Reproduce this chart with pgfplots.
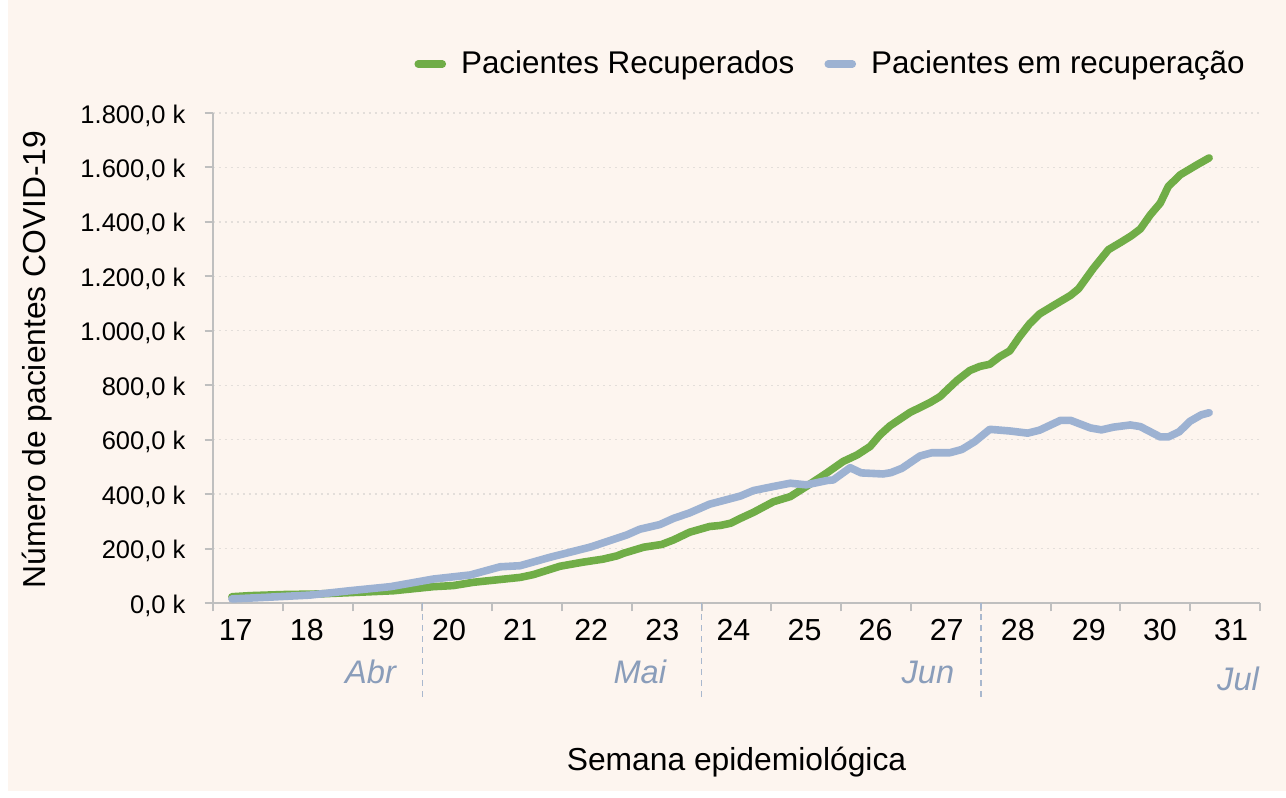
\documentclass[border=0pt]{standalone}
\usepackage{pgfplots}
\usepackage{pgfplotstable}
\pgfplotsset{compat=1.18}
\usepackage{fontspec}
\setmainfont{Liberation Sans}
\definecolor{bgc}{HTML}{FDF5EF}
\definecolor{greenc}{HTML}{70AD47}
\definecolor{bluec}{HTML}{9DB2D2}
\definecolor{axc}{HTML}{BFBFBF}
\definecolor{gridc}{HTML}{E3DEDA}
\definecolor{monthc}{HTML}{8A9DBA}
\definecolor{sepc}{HTML}{A9B8CE}

% day index (week 17 starts at 0), value in thousands
\pgfplotstableread{
d v
1.9 23
3.7 27
7.0 31
10.4 33
13.7 38
18.1 45
22.1 60
24.1 64
26.1 76
30.8 94
32.1 104
32.8 112
34.8 135
37.1 150
39.1 161
40.5 173
41.2 183
43.2 205
45.0 215
46.2 232
47.8 260
49.8 281
50.9 285
51.9 293
52.9 311
54.2 333
56.2 372
57.9 391
59.5 428
61.6 479
63.2 520
64.6 544
65.9 575
66.9 618
67.9 651
69.9 700
71.9 736
72.9 758
74.6 817
75.9 854
76.9 869
77.9 877
78.9 905
79.9 926
80.9 979
81.9 1026
82.9 1062
84.3 1093
86.0 1130
86.8 1154
88.3 1230
89.8 1298
91.0 1324
92.1 1349
93.0 1374
94.0 1426
95.0 1469
95.8 1530
97.0 1573
98.7 1610
99.9 1635
}\recup

\pgfplotstableread{
d v
1.9 15
5.4 21
9.7 29
13.7 45
17.8 60
22.1 88
25.8 103
28.8 133
30.8 137
33.8 168
37.8 205
41.5 250
42.8 271
44.8 288
46.2 311
47.8 331
49.8 363
52.9 393
54.2 413
56.2 428
57.9 440
59.5 434
61.6 450
62.2 452
63.9 497
65.0 478
67.2 474
68.0 479
69.1 495
70.9 540
72.1 552
73.9 552
75.1 564
76.4 593
77.9 638
79.9 632
81.7 624
82.9 635
85.0 671
86.0 671
88.0 643
89.1 636
90.3 646
92.0 654
93.0 648
95.0 610
95.8 610
96.9 629
98.0 668
99.1 691
99.9 699
}\emrec

\begin{document}
\begin{tikzpicture}
\fill[white] (0pt,0pt) rectangle (643pt,399pt);
\fill[bgc] (4pt,3.5pt) rectangle (643pt,399pt);
\begin{axis}[
  at={(106.5pt,97.5pt)}, anchor=south west,
  scale only axis, width=523.5pt, height=245pt,
  xmin=0, xmax=105, ymin=0, ymax=1800,
  axis lines*=left,
  axis line style={color=axc, line width=1pt},
  tick align=outside,
  major tick length=4.2pt,
  tick style={color=axc, line width=1pt},
  xtick={0,7,...,105},
  xticklabels={},
  extra x ticks={2.28,9.41,16.54,23.67,30.80,37.93,45.06,52.19,59.32,66.45,73.58,80.71,87.84,94.97,102.10},
  extra x tick labels={17,18,19,20,21,22,23,24,25,26,27,28,29,30,31},
  extra x tick style={major tick length=0pt, grid=none, tick style={draw=none}},
  xticklabel style={anchor=base, inner sep=0pt, yshift=-18.7pt, font=\fontsize{15.2}{18}\selectfont},
  ytick={0,200,...,1800},
  ymajorgrids,
  major grid style={color=gridc, line width=0.7pt, dash pattern=on 1.2pt off 1.8pt},
  yticklabel={\pgfmathprintnumber{\tick}~k},
  /pgf/number format/.cd, fixed, fixed zerofill, precision=1, use comma, 1000 sep={.}, assume math mode=true,
  /pgfplots/.cd,
  yticklabel style={anchor=base east, inner sep=0pt, xshift=-9.4pt, yshift=-5pt, font=\fontsize{12.75}{15}\selectfont},
  xlabel={Semana epidemiológica},
  xlabel style={at={(axis description cs:0.5,-0.341)}, anchor=base, font=\fontsize{15.9}{19}\selectfont},
  ylabel={Número de pacientes COVID-19},
  ylabel style={at={(axis description cs:-0.168,0.497)}, anchor=center, font=\fontsize{15.9}{19}\selectfont},
  clip=false,
  legend style={at={(axis description cs:0.9895,1.1)}, anchor=east, draw=none, fill=none,
    inner sep=0pt, font=\fontsize{15.7}{18}\selectfont,
    /tikz/every even column/.append style={column sep=13pt},
    /tikz/every odd column/.append style={column sep=5.5pt}},
  legend columns=2,
  legend image code/.code={\draw[#1, line width=3.8pt, line cap=round] (0pt,0pt) -- (12pt,0pt);},
]
\addplot[greenc, line width=3.8pt, line cap=round, line join=round] table[x=d, y=v] {\recup};
\addlegendentry{Pacientes Recuperados}
\addplot[bluec, line width=3.8pt, line cap=round, line join=round] table[x=d, y=v] {\emrec};
\addlegendentry{Pacientes em recuperação}

\pgfplotsinvokeforeach{21,49,77}{
  \draw[sepc, line width=0.8pt, dash pattern=on 3pt off 2.5pt] (axis cs:#1,0) -- (axis cs:#1,-345);
}
\node[anchor=base, monthc, font=\fontsize{16.3}{19}\selectfont\itshape] at (axis cs:15.8,-295) {Abr};
\node[anchor=base, monthc, font=\fontsize{16.3}{19}\selectfont\itshape] at (axis cs:42.8,-295) {Mai};
\node[anchor=base, monthc, font=\fontsize{16.3}{19}\selectfont\itshape] at (axis cs:71.7,-295) {Jun};
\node[anchor=base, monthc, font=\fontsize{16.3}{19}\selectfont\itshape] at (axis cs:102.8,-320) {Jul};
\end{axis}
\pgfresetboundingbox
\path (0pt,0pt) rectangle (643pt,399pt);
\end{tikzpicture}
\end{document}
